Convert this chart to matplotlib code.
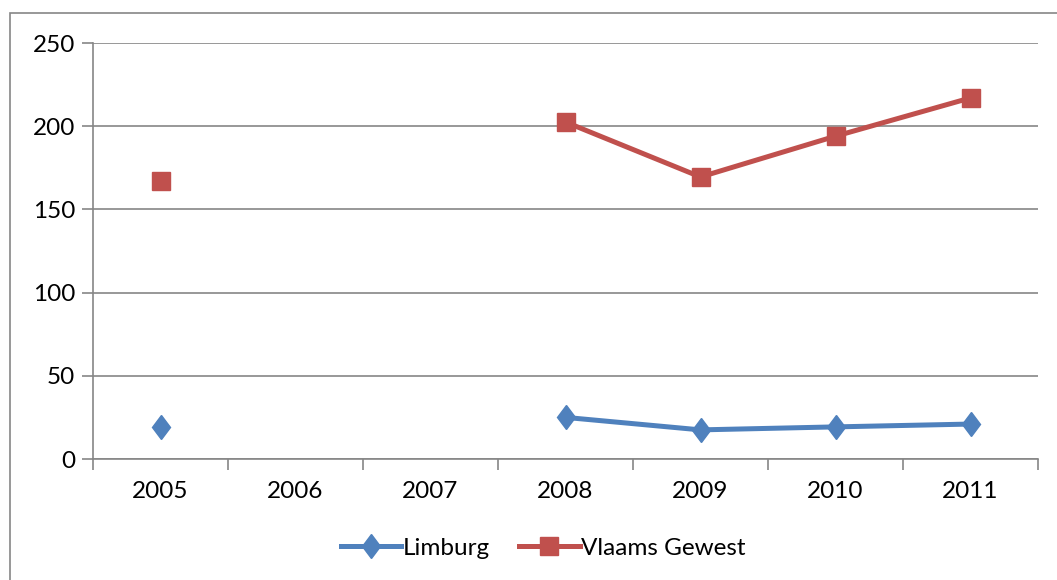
import matplotlib
matplotlib.use("Agg")
import matplotlib.pyplot as plt
from matplotlib.patches import Rectangle
from matplotlib.markers import MarkerStyle
from matplotlib.transforms import Affine2D
import numpy as np

years = ["2005", "2006", "2007", "2008", "2009", "2010", "2011"]
limburg = [19.5, np.nan, np.nan, 25, 17.5, 19.3, 21]
vlaams = [167, np.nan, np.nan, 202.5, 169.5, 194, 217]

BLUE = "#4F81BD"
RED = "#C0504D"
GRID = "#868686"

plt.rcParams["font.family"] = ["Lato", "DejaVu Sans"]

W, H = 1057, 580
fig = plt.figure(figsize=(W / 100, H / 100), dpi=100)
ax = fig.add_axes([93 / W, (H - 459) / H, (1038 - 93) / W, (459 - 43) / H])

# chart-area border (cropped on right and bottom in the original)
fig.patches.append(Rectangle((10 / W, -0.05), 1.2, (H - 13) / H + 0.05,
                             transform=fig.transFigure, fill=False,
                             ec=GRID, lw=1.2))

x = np.arange(len(years))
diamond = MarkerStyle("D", transform=Affine2D().scale(0.72, 1.0))
ax.plot(x, limburg, color=BLUE, lw=3.6, marker=diamond, ms=12.5,
        mfc=BLUE, mec=BLUE, label="Limburg")
ax.plot(x, vlaams, color=RED, lw=3.6, marker="s", ms=13.5,
        mfc=RED, mec=RED, label="Vlaams Gewest")

ax.set_xlim(-0.5, len(years) - 0.5)
ax.set_ylim(0, 250)
ax.set_yticks(range(0, 251, 50))
ax.yaxis.grid(True, color=GRID, lw=1.2)
ax.set_axisbelow(True)

ax.set_xticks(x)
ax.set_xticklabels(years)
ax.set_xticks(np.arange(-0.5, len(years)), minor=True)
ax.tick_params(axis="x", which="major", length=0, pad=16, labelsize=17.5)
ax.tick_params(axis="x", which="minor", length=8, color=GRID, width=1.2,
               direction="out")
ax.tick_params(axis="y", length=8, color=GRID, width=1.2, pad=5,
               labelsize=17.5)

for s in ("top", "right"):
    ax.spines[s].set_visible(False)
for s in ("left", "bottom"):
    ax.spines[s].set_color(GRID)
    ax.spines[s].set_linewidth(1.2)

fig.legend(loc="center", bbox_to_anchor=(543 / W, (H - 548) / H), ncol=2,
           frameon=False, fontsize=17.5, handlelength=2.5, handletextpad=0.05,
           columnspacing=1.2)

fig.savefig("out.png", dpi=100)
